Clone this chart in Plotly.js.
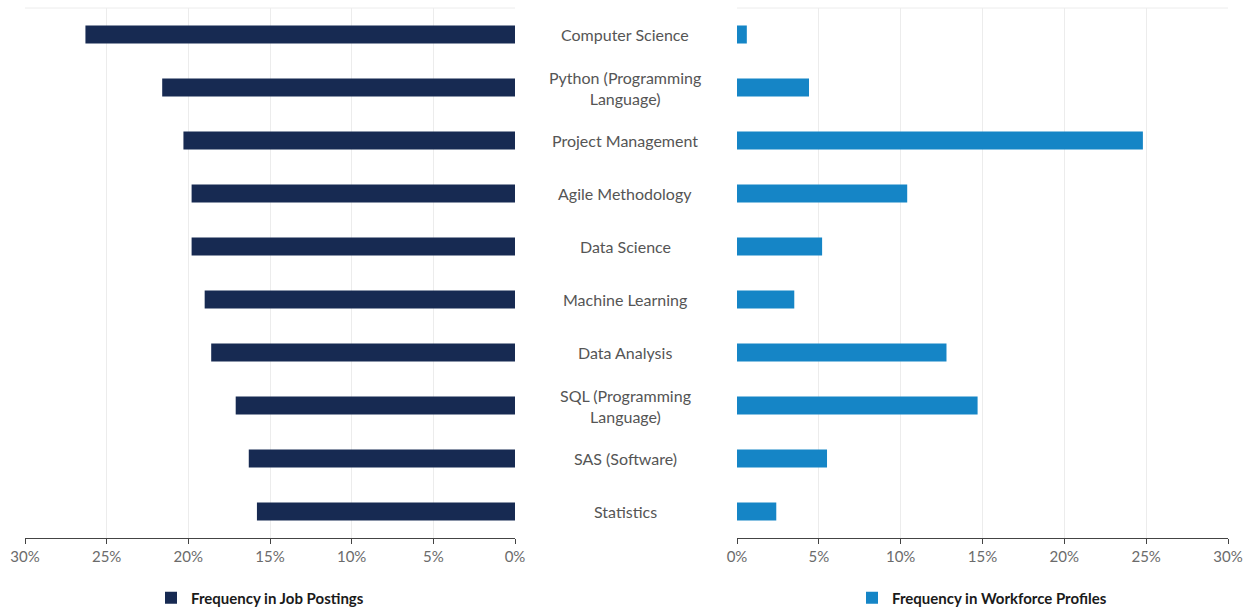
<!DOCTYPE html>
<html>
<head>
<meta charset="utf-8">
<script src="https://cdn.plot.ly/plotly-3.0.1.min.js"></script>
<style>
  html, body { margin: 0; padding: 0; background: #fff; }
  #chart { width: 1253px; height: 610px; }
</style>
</head>
<body>
<div id="chart"></div>
<script>
// skills, top to bottom
const skills = [
    'Computer Science',
    'Python (Programming<br>Language)',
    'Project Management',
    'Agile Methodology',
    'Data Science',
    'Machine Learning',
    'Data Analysis',
    'SQL (Programming<br>Language)',
    'SAS (Software)',
    'Statistics'
];

// percent of job postings mentioning the skill
const jobPostings = [26.3, 21.6, 20.3, 19.8, 19.8, 19.0, 18.6, 17.1, 16.3, 15.8];

// percent of workforce profiles listing the skill
const workforceProfiles = [0.6, 4.4, 24.8, 10.4, 5.2, 3.5, 12.8, 14.7, 5.5, 2.4];

const tickVals = [0, 5, 10, 15, 20, 25, 30];

const W = 1253;
const H = 610;
const fontFamily = 'Lato, "Open Sans", sans-serif';

const jobTrace = {
    type: 'bar',
    orientation: 'h',
    x: jobPostings,
    y: skills,
    xaxis: 'x',
    yaxis: 'y',
    width: 0.34,
    name: 'Frequency in Job Postings',
    marker: { color: '#172a52' },
    legend: 'legend',
    hoverinfo: 'skip'
};

const workforceTrace = {
    type: 'bar',
    orientation: 'h',
    x: workforceProfiles,
    y: skills,
    xaxis: 'x2',
    yaxis: 'y2',
    width: 0.34,
    name: 'Frequency in Workforce Profiles',
    marker: { color: '#1585c6' },
    legend: 'legend2',
    hoverinfo: 'skip'
};

const xCommon = {
    tickvals: tickVals,
    ticktext: tickVals.map(v => v + '%'),
    showgrid: true,
    gridcolor: '#ececec',
    gridwidth: 1,
    zeroline: false,
    showline: true,
    linecolor: '#444',
    linewidth: 1,
    ticks: 'outside',
    ticklen: 5,
    tickcolor: '#444',
    tickfont: { family: fontFamily, size: 15, color: '#6b6b6b' },
    automargin: false,
    fixedrange: true
};

const yCommon = {
    type: 'category',
    categoryorder: 'array',
    categoryarray: skills,
    autorange: 'reversed',
    showticklabels: false,
    showgrid: false,
    zeroline: false,
    showline: false,
    ticks: '',
    fixedrange: true
};

// skill names sit in the gap between the two panels
const labelAnnotations = skills.map(s => ({
    x: 625 / W,
    xref: 'paper',
    y: s,
    yref: 'y',
    text: s,
    showarrow: false,
    xanchor: 'center',
    yanchor: 'middle',
    align: 'center',
    font: { family: fontFamily, size: 16, color: '#555' }
}));

// faint top border of each panel
const topLines = [['x domain', 'y domain'], ['x2 domain', 'y2 domain']].map(r => ({
    type: 'line',
    xref: r[0], yref: r[1],
    x0: 0, x1: 1, y0: 1, y1: 1,
    line: { color: '#ececec', width: 1 }
}));

const legendFont = { family: fontFamily, size: 15, color: '#1a1a1a', weight: 'bold' };

const layout = {
    width: W,
    height: H,
    margin: { l: 0, r: 0, t: 8, b: 72, autoexpand: false },
    paper_bgcolor: '#fff',
    plot_bgcolor: '#fff',
    font: { family: fontFamily },
    xaxis: Object.assign({}, xCommon, {
        domain: [25 / W, 515 / W],
        range: [30, 0],
        anchor: 'y'
    }),
    yaxis: Object.assign({}, yCommon, { anchor: 'x' }),
    xaxis2: Object.assign({}, xCommon, {
        domain: [737 / W, 1228 / W],
        range: [0, 30],
        anchor: 'y2'
    }),
    yaxis2: Object.assign({}, yCommon, { anchor: 'x2', matches: 'y' }),
    annotations: labelAnnotations,
    shapes: topLines,
    legend: {
        x: 260 / W, xanchor: 'center',
        yref: 'container',
        y: (H - 598) / H, yanchor: 'middle',
        orientation: 'h',
        font: legendFont,
        bgcolor: 'rgba(0,0,0,0)'
    },
    legend2: {
        x: 982 / W, xanchor: 'center',
        yref: 'container',
        y: (H - 598) / H, yanchor: 'middle',
        orientation: 'h',
        font: legendFont,
        bgcolor: 'rgba(0,0,0,0)'
    },
    showlegend: true
};

Plotly.newPlot('chart', [jobTrace, workforceTrace], layout, { displayModeBar: false, staticPlot: true });
</script>
</body>
</html>
